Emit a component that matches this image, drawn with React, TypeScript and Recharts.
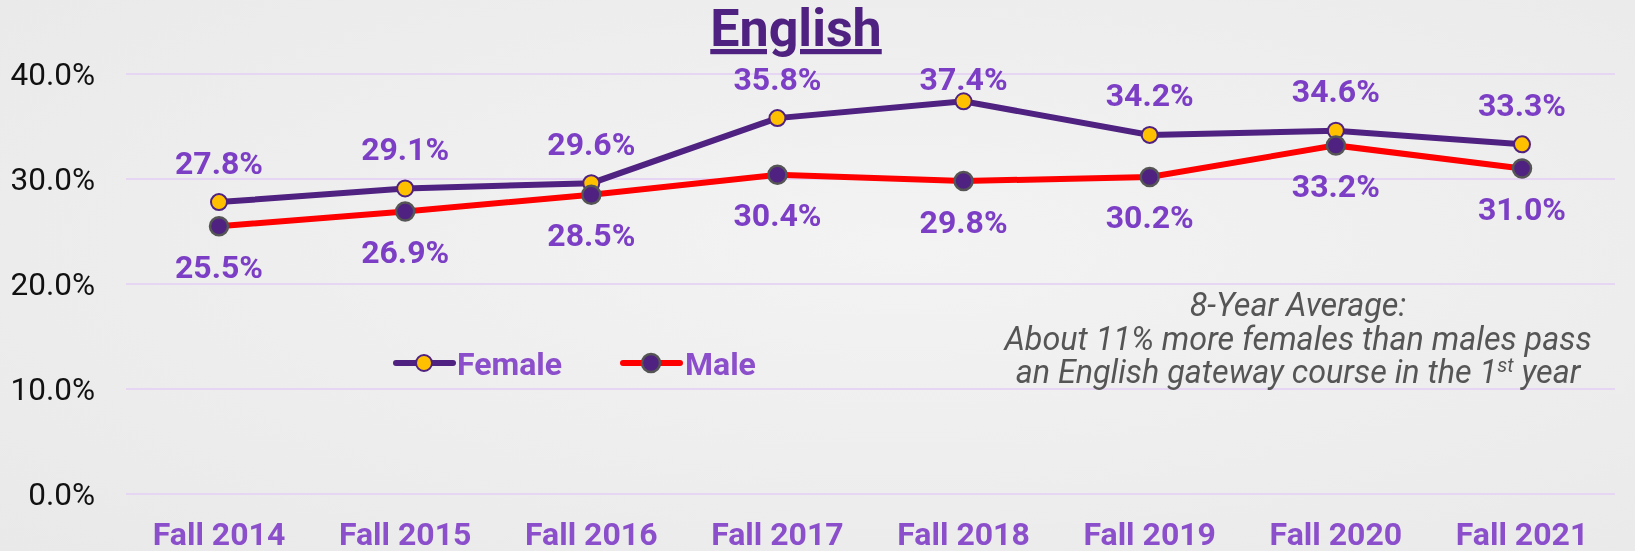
import React from 'react';
import { LineChart, Line, XAxis, YAxis, CartesianGrid } from 'recharts';

const categories = ['Fall 2014', 'Fall 2015', 'Fall 2016', 'Fall 2017', 'Fall 2018', 'Fall 2019', 'Fall 2020', 'Fall 2021'];
const femaleValues = [27.8, 29.1, 29.6, 35.8, 37.4, 34.2, 34.6, 33.3];
const maleValues = [25.5, 26.9, 28.5, 30.4, 29.8, 30.2, 33.2, 31.0];
const yTicks = [0, 10, 20, 30, 40];

const data = categories.map((c, i) => ({ name: c, Female: femaleValues[i], Male: maleValues[i] }));

const DARK = '#4F2180';
const GOLD = '#FFC000';
const RED = '#FF0000';
const LABEL = '#7B3EC4';
const TICK = '#8C4FCB';
const FONT = 'Roboto, "Noto Sans", sans-serif';
const PLOT_TOP = 74;

const makeLabel = (dir: number) => (props: any) => {
  const { x, y, value } = props;
  let ly = y + dir * 40;
  if (dir < 0) ly = Math.max(ly, PLOT_TOP + 4);
  return (
    <text x={x} y={ly} dy="0.36em" textAnchor="middle" fill={LABEL}
      style={{ fontFamily: FONT, fontWeight: 700, fontSize: 32 }}>
      {Number(value).toFixed(1)}%
    </text>
  );
};

export default function App() {
  return (
    <div style={{
      position: 'fixed', left: 0, top: 0, width: 1635, height: 551, overflow: 'hidden',
      background: 'radial-gradient(ellipse at 55% 45%, #f3f3f3 0%, #eeeeee 50%, #e9e9e9 100%)',
    }}>
      <LineChart width={1635} height={551} data={data} margin={{ top: PLOT_TOP, right: 20, bottom: 0, left: 0 }}>
        <CartesianGrid vertical={false} stroke="#E6D6F4" strokeWidth={2} />
        <XAxis dataKey="name" axisLine={false} tickLine={false} tickSize={0} tickMargin={28} height={57}
          interval={0} padding={{ left: 93, right: 93 }}
          tick={{ fill: TICK, fontFamily: FONT, fontWeight: 700, fontSize: 32 }} />
        <YAxis domain={[0, 40]} ticks={yTicks} width={126} axisLine={false} tickLine={false}
          tickSize={0} tickMargin={31}
          tickFormatter={(v: number) => `${v.toFixed(1)}%`}
          tick={{ fill: '#111', fontFamily: FONT, fontSize: 31.5 }} />
        <Line dataKey="Female" stroke={DARK} strokeWidth={6} isAnimationActive={false}
          dot={{ r: 8, fill: GOLD, stroke: DARK, strokeWidth: 2 }}
          label={makeLabel(-1)} />
        <Line dataKey="Male" stroke={RED} strokeWidth={6} isAnimationActive={false}
          dot={{ r: 9, fill: DARK, stroke: '#555', strokeWidth: 2.5 }}
          label={makeLabel(1)} />
      </LineChart>
      <svg width={1635} height={551} style={{ position: 'absolute', left: 0, top: 0, pointerEvents: 'none' }}>
        <text x={796} y={46} textAnchor="middle" fill={DARK}
          style={{ fontFamily: FONT, fontWeight: 700, fontSize: 52, textDecoration: 'underline' }}>English</text>
        <g>
          <line x1={396} y1={363} x2={453} y2={363} stroke={DARK} strokeWidth={6} strokeLinecap="round" />
          <circle cx={424} cy={363} r={8} fill={GOLD} stroke={DARK} strokeWidth={2} />
          <text x={457} y={363} dy="0.36em" fill={TICK} style={{ fontFamily: FONT, fontWeight: 700, fontSize: 32 }}>Female</text>
          <line x1={623} y1={363} x2={680} y2={363} stroke={RED} strokeWidth={6} strokeLinecap="round" />
          <circle cx={651} cy={363} r={9} fill={DARK} stroke="#555" strokeWidth={2.5} />
          <text x={685} y={363} dy="0.36em" fill={TICK} style={{ fontFamily: FONT, fontWeight: 700, fontSize: 32 }}>Male</text>
        </g>
        <g style={{ fontFamily: FONT, fontStyle: 'italic', fontSize: 32.3 }} fill="#555" textAnchor="middle">
          <text x={1298} y={316}>8-Year Average:</text>
          <text x={1298} y={349.5}>About 11% more females than males pass</text>
          <text x={1298} y={383}>an English gateway course in the 1<tspan dy={-11} fontSize={20}>st</tspan><tspan dy={11}> year</tspan></text>
        </g>
      </svg>
    </div>
  );
}
